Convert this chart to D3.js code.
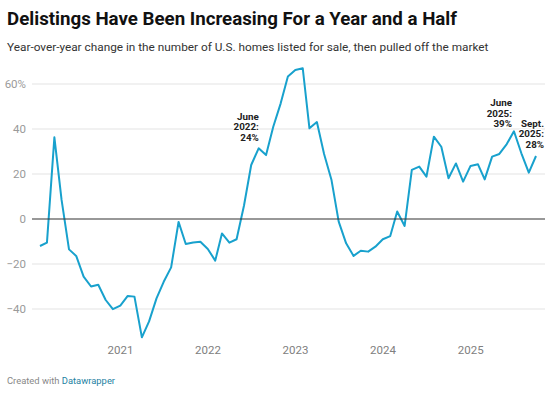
<!DOCTYPE html>
<html>
<head>
<meta charset="utf-8">
<script src="https://cdn.jsdelivr.net/npm/d3@7"></script>
<style>
  html, body { margin: 0; padding: 0; background: #fff; }
  svg { display: block; font-family: Roboto, "Noto Sans", sans-serif; }
</style>
</head>
<body>
<svg id="chart" width="553" height="394"></svg>
<script>
// ---- data ----
const startYear = 2020;
const values2020 = [-12, -10.5, 36.3, 8.5, -13.5, -16.4, -25.6, -30, -29.2, -36, -40.1, -38.5];
const values2021 = [-34.2, -34.5, -52.6, -45.5, -35.3, -27.9, -21.5, -1.3, -11.1, -10.4, -10.1, -13.3];
const values2022 = [-18.5, -6.4, -10.5, -9, 6, 24, 31.4, 28.4, 41, 51.4, 63.3, 66.2];
const values2023 = [67, 40.3, 43.1, 28.9, 17.3, -1.2, -10.8, -16.4, -14.1, -14.5, -12.3, -9];
const values2024 = [-7.6, 3.3, -3.1, 21.8, 23.3, 18.8, 36.6, 32.1, 18.1, 24.7, 16.6, 23.6];
const values2025 = [24.3, 17.6, 27.7, 28.9, 33.3, 39, 29.2, 20.6, 28];
const yTicks = [-40, -20, 0, 20, 40, 60];
const xTickYears = [2021, 2022, 2023, 2024, 2025];
const annotations = [
  { year: 2022, month: 6, lines: ["June", "2022:", "24%"] },
  { year: 2025, month: 6, lines: ["June", "2025:", "39%"] },
  { year: 2025, month: 9, lines: ["Sept.", "2025:", "28%"] }
];
const title = "Delistings Have Been Increasing For a Year and a Half";
const subtitle = "Year-over-year change in the number of U.S. homes listed for sale, then pulled off the market";

const allValues = [].concat(values2020, values2021, values2022, values2023, values2024, values2025);
// month-end dates
const data = allValues.map((v, i) => ({
  date: new Date(startYear, i + 1, 0),
  value: v
}));

const svg = d3.select("#chart");

// ---- header ----
svg.append("text").attr("x", 7).attr("y", 25)
  .attr("font-size", 18.7).attr("font-weight", 700).attr("fill", "#111")
  .text(title);
svg.append("text").attr("x", 7).attr("y", 51)
  .attr("font-size", 11.8).attr("fill", "#333")
  .text(subtitle);

// ---- scales ----
const plotLeft = 32, plotRight = 545;
const x = d3.scaleTime()
  .domain([data[0].date, data[data.length - 1].date])
  .range([40, 536]);
const y = d3.scaleLinear().domain([-40, 60]).range([309, 84]);

// ---- grid ----
const g = svg.append("g");
g.selectAll("line.grid").data(yTicks.filter(t => t !== 0)).join("line")
  .attr("class", "grid")
  .attr("x1", plotLeft).attr("x2", plotRight)
  .attr("y1", d => y(d)).attr("y2", d => y(d))
  .attr("stroke", "#e3e3e3").attr("stroke-width", 1);

g.selectAll("text.ylab").data(yTicks).join("text")
  .attr("class", "ylab")
  .attr("x", 26).attr("y", d => y(d))
  .attr("dy", "0.35em")
  .attr("text-anchor", "end")
  .attr("font-size", 11.5).attr("fill", "#9a9a9a")
  .text(d => (d < 0 ? "\u2212" + Math.abs(d) : d) + (d === 60 ? "%" : ""));

// x axis labels
g.selectAll("text.xlab").data(xTickYears).join("text")
  .attr("class", "xlab")
  .attr("x", d => x(new Date(d, 0, 1)))
  .attr("y", 350).attr("dy", "0.35em")
  .attr("text-anchor", "middle")
  .attr("font-size", 11.5).attr("fill", "#808080")
  .text(d => d);

// ---- line ----
const line = d3.line().x(d => x(d.date)).y(d => y(d.value));
g.append("path").datum(data)
  .attr("d", line)
  .attr("fill", "none")
  .attr("stroke", "#18a1cd")
  .attr("stroke-width", 2)
  .attr("stroke-linejoin", "round");

// zero line
g.append("line")
  .attr("x1", plotLeft).attr("x2", plotRight)
  .attr("y1", y(0)).attr("y2", y(0))
  .attr("stroke", "#333").attr("stroke-width", 1.2);

// ---- annotations ----
const annOffsets = [
  { dx: 7.6, dy: -45.5 },
  { dx: -2, dy: -25 },
  { dx: 8, dy: -29.2 }
];
annotations.forEach((a, k) => {
  const d = data[(a.year - startYear) * 12 + a.month - 1];
  const px = x(d.date) + annOffsets[k].dx;
  const py = y(d.value) + annOffsets[k].dy;
  const t = g.append("text")
    .attr("text-anchor", "end")
    .attr("font-size", 9.8).attr("font-weight", 700).attr("fill", "#222")
    .attr("stroke", "#fff").attr("stroke-width", 2.5).attr("paint-order", "stroke")
    .attr("stroke-linejoin", "round");
  a.lines.forEach((l, i) => {
    t.append("tspan").attr("x", px).attr("y", py + i * 10.5).text(l);
  });
});

// ---- footer ----
const foot = svg.append("text").attr("x", 7).attr("y", 384)
  .attr("font-size", 9.4).attr("fill", "#888");
foot.append("tspan").text("Created with ");
foot.append("tspan").attr("fill", "#1d81a2").text("Datawrapper");
</script>
</body>
</html>
